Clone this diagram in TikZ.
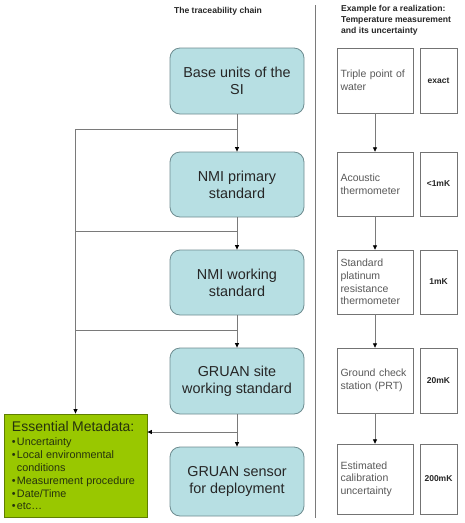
\documentclass[tikz,border=0pt]{standalone}
\usepackage{fontspec}
\setmainfont{Liberation Sans}
\usepackage{xcolor}
\usetikzlibrary{positioning,arrows.meta}

\definecolor{chainfill}{HTML}{B7DFE3}
\definecolor{chainedge}{HTML}{6E8C90}
\definecolor{metafill}{HTML}{99C800}
\definecolor{metaedge}{HTML}{5F7F00}
\definecolor{metatext}{HTML}{26330D}
\definecolor{linkgray}{HTML}{7A7A7A}

\newcommand{\mbul}{\makebox[5pt][l]{\textbullet}}
\newcommand{\mcont}{\makebox[5pt][l]{}}

\tikzset{
  chainbox/.style={draw=chainedge, fill=chainfill, rounded corners=10pt, line width=0.8pt,
    minimum width=134pt, align=center, text=black!85, font=\fontsize{14.4}{17}\selectfont},
  exbox/.style={draw=black!55, fill=white, minimum width=76pt, text width=69pt, inner xsep=3.5pt,
    align=left, text=black!65, font=\fontsize{10.5}{12.7}\selectfont},
  valbox/.style={draw=black!55, fill=white, minimum width=37pt, text=black!85,
    font=\bfseries\fontsize{8.5}{10}\selectfont},
  metabox/.style={draw=metaedge, fill=metafill, line width=0.8pt, minimum width=143pt,
    minimum height=103pt, text width=127pt, inner xsep=8pt, align=left, text=metatext},
  link/.style={draw=linkgray, line width=0.8pt},
  tip/.style={link, -{Triangle[length=4.5pt,width=4pt,color=black]}},
  head/.style={inner sep=0pt, text=black!85, font=\bfseries\fontsize{8.6}{11}\selectfont}
}

\begin{document}
\begin{tikzpicture}[x=1pt, y=-1pt]
\useasboundingbox (0,0) rectangle (465,523);
% headings
\node[head, anchor=north] (chainhead) at (218,7) {The traceability chain};
\node[head, anchor=north west, align=left] (exhead) at (341,5)
  {Example for a realization:\\Temperature measurement\\and its uncertainty};
% separator
\coordinate (septop) at (315,5);
\coordinate (sepbot) at (315,518);
\draw[link] (septop) -- (sepbot);
% the chain
\node[chainbox, minimum height=66pt] (base) at (237,81)    {Base units of the\\SI};
\node[chainbox, minimum height=65pt] (prim) at (237,184.5) {NMI primary\\standard};
\node[chainbox, minimum height=65pt] (work) at (237,282.5) {NMI working\\standard};
\node[chainbox, minimum height=66pt] (site) at (237,381)   {GRUAN site\\working standard};
\node[chainbox, minimum height=69pt] (sens) at (237,481.5) {GRUAN sensor\\for deployment};
\draw[tip] (base) -- (prim);
\draw[tip] (prim) -- (work);
\draw[tip] (work) -- (site);
\draw[tip] (site) -- (sens);
% metadata box and feeds
\node[metabox] (meta) at (75.5,465.5) {%
  \makebox[127pt][l]{\fontsize{14}{16}\selectfont Essential Metadata:}\\[1pt]
  \fontsize{10.8}{13}\selectfont
  \mbul Uncertainty\\
  \mbul Local environmental\\
  \mcont conditions\\
  \mbul Measurement procedure\\
  \mbul Date/Time\\
  \mbul etc\ldots};
\coordinate (j1) at (237,129);
\coordinate (j2) at (237,231);
\coordinate (j3) at (237,330);
\coordinate (j4) at (237,432);
\draw[tip] (j1) -| (meta.north);
\draw[link] (j2) -- (j2 -| meta.north);
\draw[link] (j3) -- (j3 -| meta.north);
\draw[tip] (j4) -- (j4 -| meta.east);
% example column
\foreach \i/\yc/\h/\txt/\val in {
  1/80.5/65/{Triple point of\\water}/exact,
  2/184/64/{Acoustic\\thermometer}/{<1mK},
  3/282/64/{Standard\\platinum\\resistance\\thermometer}/1mK,
  4/380.5/65/{Ground check\\station (PRT)}/20mK,
  5/479/70/{Estimated\\calibration\\uncertainty}/200mK}{
  \node[exbox, minimum height=\h pt] (ex\i) at (375,\yc) {\txt};
  \node[valbox, minimum height=\h pt] (val\i) at (438.5,\yc) {\val};
}
\foreach \i/\j in {1/2,2/3,3/4,4/5}{
  \draw[tip] (ex\i) -- (ex\j);
}
\end{tikzpicture}
\end{document}
